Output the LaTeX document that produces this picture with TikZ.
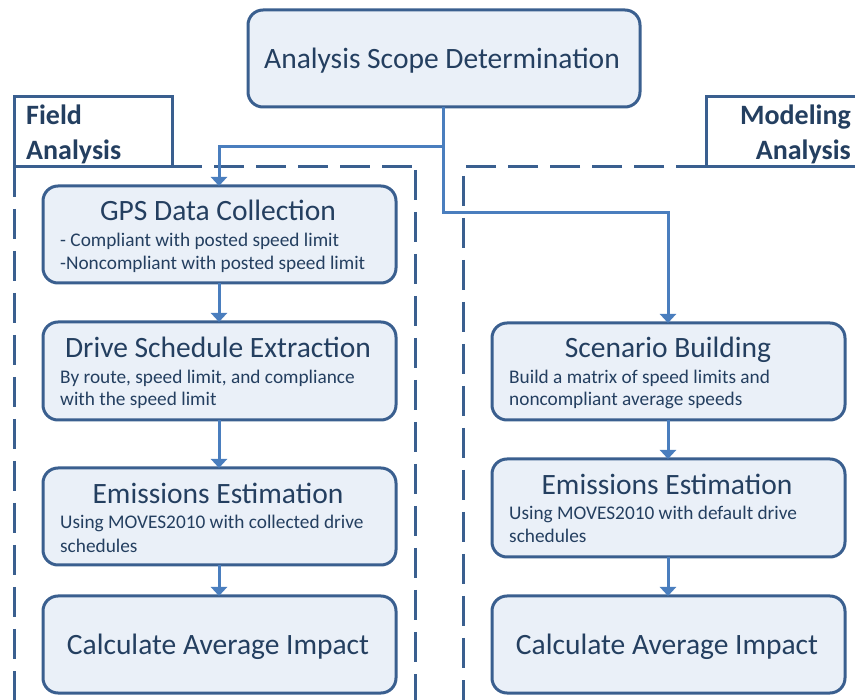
\documentclass[tikz,border=0pt]{standalone}
\usepackage{fontspec}
\setmainfont{Carlito}
\usetikzlibrary{arrows.meta}
\definecolor{boxfill}{HTML}{EAF0F8}
\definecolor{boxline}{HTML}{3A5F8F}
\definecolor{txt}{HTML}{243F60}
\definecolor{flow}{HTML}{4A7EBE}
\tikzset{
  stage/.style={draw=boxline, line width=3pt, fill=boxfill, rounded corners=15pt},
  title/.style={text=txt, font=\fontsize{29.5}{32}\selectfont, inner sep=0pt, anchor=base},
  detail/.style={text=txt, font=\fontsize{19.3}{22}\selectfont, inner sep=0pt, anchor=base west},
  heading/.style={text=txt, font=\bfseries\fontsize{28}{34}\selectfont, inner sep=0pt},
  tab/.style={draw=boxline, line width=3pt, fill=white},
  region/.style={draw=boxline, line width=3pt, dash pattern=on 30pt off 12pt},
  link/.style={draw=flow, line width=3pt},
  arrow/.style={link, -{Triangle[width=16pt,length=9pt]}}
}
\begin{document}
\begin{tikzpicture}[x=1pt,y=-1pt]
\useasboundingbox (0,0) rectangle (855,700);

% dashed regions
\draw[region] (172,167) -- (415,167);
\draw[region] (415,170) -- (415,700);
\draw[region] (14,167) -- (14,700);
\draw[region] (706,167) -- (463,167) -- (463,700);

% region tabs
\path[tab] (14,97) rectangle (172,167);
\path[tab] (706,97) rectangle (870,167);
\node[heading, anchor=base west] (fieldA) at (26,125) {Field};
\node[heading, anchor=base west] (fieldB) at (26,160) {Analysis};
\node[heading, anchor=base east] (modA) at (851,125) {Modeling};
\node[heading, anchor=base east] (modB) at (851,160) {Analysis};

% top stage
\path[stage] (248,10) rectangle (640,107);
\coordinate (scope) at (443,107);
\node[title] (scopeT) at (442,69) {Analysis Scope Determination};

% left column
\path[stage] (43,186) rectangle (396,283);
\coordinate (gpsTop) at (219,186);
\coordinate (gpsBot) at (219,283);
\node[title] (gpsT) at (218,221) {GPS Data Collection};
\node[detail] (gps1) at (60,247) {- Compliant with posted speed limit};
\node[detail] (gps2) at (60,270) {-Noncompliant with posted speed limit};

\path[stage] (43,322) rectangle (396,420);
\coordinate (dsTop) at (219,322);
\coordinate (dsBot) at (219,420);
\node[title] (dsT) at (218,358) {Drive Schedule Extraction};
\node[detail] (ds1) at (60,384) {By route, speed limit, and compliance};
\node[detail] (ds2) at (60,406) {with the speed limit};

\path[stage] (43,468) rectangle (396,565);
\coordinate (emLTop) at (219,468);
\coordinate (emLBot) at (219,565);
\node[title] (emLT) at (218,504) {Emissions Estimation};
\node[detail] (emL1) at (60,529) {Using MOVES2010 with  collected drive};
\node[detail] (emL2) at (60,553) {schedules};

\path[stage] (43,596) rectangle (396,693);
\coordinate (caLTop) at (219,596);
\node[title] (caLT) at (218,655) {Calculate Average Impact};

% right column
\path[stage] (492,323) rectangle (845,420);
\coordinate (scTop) at (668,323);
\coordinate (scBot) at (668,420);
\node[title] (scT) at (668,358) {Scenario Building};
\node[detail] (sc1) at (509,384) {Build a matrix of speed limits and};
\node[detail] (sc2) at (509,406) {noncompliant average speeds};

\path[stage] (492,459) rectangle (845,557);
\coordinate (emRTop) at (668,459);
\coordinate (emRBot) at (668,557);
\node[title] (emRT) at (667,495) {Emissions Estimation};
\node[detail] (emR1) at (509,520) {Using MOVES2010 with  default drive};
\node[detail] (emR2) at (509,543) {schedules};

\path[stage] (492,596) rectangle (845,693);
\coordinate (caRTop) at (668,596);
\node[title] (caRT) at (667,655) {Calculate Average Impact};

% connectors
\draw[arrow] (scope) |- (219,147) -- (gpsTop);
\draw[arrow] (scope) |- (668,213) -- (scTop);
\draw[arrow] (gpsBot) -- (dsTop);
\draw[arrow] (dsBot) -- (emLTop);
\draw[arrow] (emLBot) -- (caLTop);
\draw[arrow] (scBot) -- (emRTop);
\draw[arrow] (emRBot) -- (caRTop);
\end{tikzpicture}
\end{document}
